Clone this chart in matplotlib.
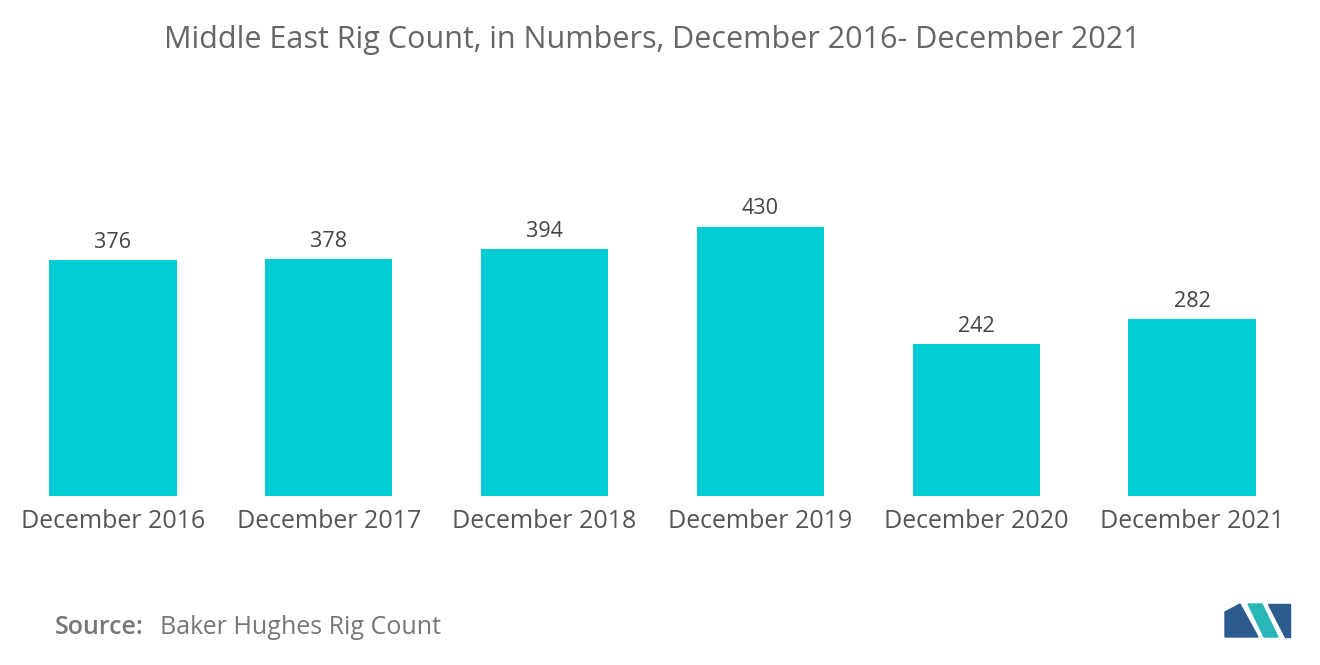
import matplotlib
matplotlib.use("Agg")
import matplotlib.pyplot as plt
from matplotlib.patches import Polygon

categories = ["December 2016", "December 2017", "December 2018",
              "December 2019", "December 2020", "December 2021"]
rig_count = [376, 378, 394, 430, 242, 282]

plt.rcParams["font.family"] = "Open Sans"
fig = plt.figure(figsize=(13.2, 6.65), dpi=100)
ax = fig.add_axes([5 / 1320, 169 / 665, 1295 / 1320, 282 / 665])

x = range(len(categories))
bars = ax.bar(x, rig_count, width=0.59, color="#00CCD3")
for b, v in zip(bars, rig_count):
    ax.text(b.get_x() + b.get_width() / 2, v + 12, str(v),
            ha="center", va="bottom", fontsize=15.5, color="#444444")

ax.set_xlim(-0.5, len(categories) - 0.5)
ax.set_ylim(0, 450)
ax.set_xticks(list(x))
ax.set_xticklabels(categories, fontsize=18, color="#555555")
ax.tick_params(axis="x", length=0, pad=9)
ax.set_yticks([])
for s in ax.spines.values():
    s.set_visible(False)

fig.text(0.494, 1 - 40 / 665, "Middle East Rig Count, in Numbers, December 2016- December 2021",
         ha="center", va="center", fontsize=22, color="#666666")
fig.text(55 / 1320, 1 - 627 / 665, "Source:", ha="left", va="center",
         fontsize=18, color="#777777", fontweight="semibold")
fig.text(160 / 1320, 1 - 627 / 665, "Baker Hughes Rig Count", ha="left", va="center",
         fontsize=18, color="#777777")

# logo
def px(pts):
    return [(a / 1320, 1 - b / 665) for a, b in pts]
fig.patches.append(Polygon(px([(1225, 637), (1225, 612), (1240, 604), (1258, 637)]),
                           closed=True, color="#2C5C8F", transform=fig.transFigure))
fig.patches.append(Polygon(px([(1248, 604), (1262, 604), (1278, 637), (1264, 637)]),
                           closed=True, color="#2AB6B8", transform=fig.transFigure))
fig.patches.append(Polygon(px([(1268, 604), (1290, 604), (1290, 637), (1285, 637)]),
                           closed=True, color="#2C5C8F", transform=fig.transFigure))

fig.savefig("out.png", dpi=100, facecolor="white")
